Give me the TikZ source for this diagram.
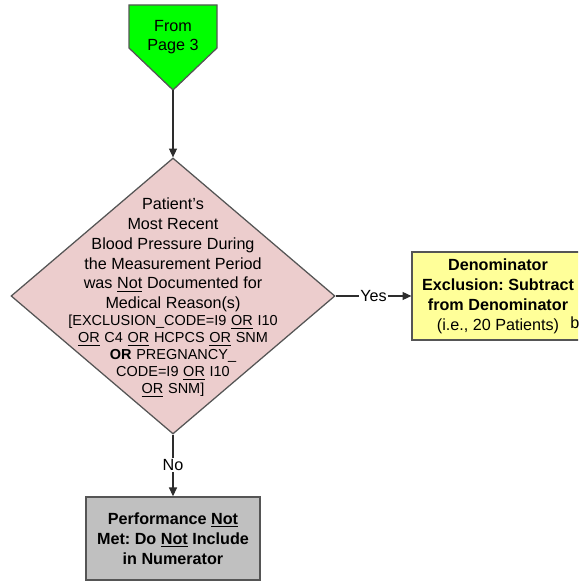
\documentclass[tikz,border=0pt]{standalone}
\usepackage{fontspec}
\setmainfont{Liberation Sans}
\usepackage{tikz}
\usetikzlibrary{shapes.geometric, arrows.meta}
\frenchspacing

\definecolor{fromgreen}{RGB}{0,255,0}
\definecolor{decpink}{RGB}{236,205,205}
\definecolor{exclyellow}{RGB}{255,255,153}
\definecolor{perfgray}{RGB}{192,192,192}
\definecolor{edgegray}{RGB}{85,85,85}
\definecolor{linegray}{RGB}{45,45,45}

\begin{document}
\begin{tikzpicture}[
	>={Triangle[length=2.2mm, width=2mm]},
	box/.style = {draw = edgegray, line width = 0.9 pt, inner sep = 0 pt, align = center,
		font = \fontsize{11.5}{14.2}\selectfont\bfseries},
	flow/.style = {draw = linegray, line width = 0.8 pt, ->},
	yesno/.style = {fill = white, inner sep = 1 pt, font = \fontsize{11.5}{14}\selectfont}]
	\useasboundingbox (0, 0) rectangle (14.45, 14.55);
	\clip (0, 0) rectangle (14.45, 14.55);
	
	\draw[draw = edgegray, line width = 0.9 pt, fill = fromgreen] (3.225, 14.425) -- (5.425, 14.425) -- (5.425, 13.35) -- (4.325, 12.3) -- (3.225, 13.35) -- cycle;
	\coordinate (fromtip) at (4.325, 12.3);
	\node[align = center, font = \fontsize{11.5}{13.5}\selectfont] (from) at (4.325, 13.62) {From\\Page 3};
	
	\node[box, shape = diamond, fill = decpink, minimum width = 8.1 cm, minimum height = 6.9 cm] (dec) at (4.325, 7.15) {};
	\node[text width = 7 cm, align = center, inner sep = 0 pt] (dectext) at (4.325, 7.12) {%
		{\fontsize{11.5}{14.2}\selectfont Patient’s\\ Most Recent\\ Blood Pressure During\\ the Measurement Period\\ was \underline{Not} Documented for\\ Medical Reason(s)\par}%
		{\fontsize{10.3}{12.1}\selectfont [EXCLUSION\_CODE=I9 \underline{OR} I10\\ \underline{OR} C4 \underline{OR} HCPCS \underline{OR} SNM\\ \textbf{OR} PREGNANCY\_\\ CODE=I9 \underline{OR} I10\\ \underline{OR} SNM]\par}};
	
	\node[box, fill = exclyellow, minimum width = 4.3 cm, minimum height = 2.2 cm] (excl) at (12.45, 7.15) {Denominator\\Exclusion: Subtract\\from Denominator\\\mdseries(i.e., 20 Patients)};
	\node[anchor = base west, inner sep = 0 pt, font = \fontsize{11.5}{14}\selectfont] (exclb) at (14.25, 6.33) {b};
	
	\node[box, fill = perfgray, minimum width = 4.35 cm, minimum height = 2.075 cm] (perf) at (4.325, 1.09) {Performance \underline{Not}\\Met: Do \underline{Not} Include\\in Numerator};
	
	\draw[flow] (fromtip) -- (dec.north);
	\draw[flow] (dec.east) -- node[yesno] {Yes} (excl.west);
	\draw[flow] (dec.south) -- node[yesno] {No} (perf.north);
\end{tikzpicture}
\end{document}
